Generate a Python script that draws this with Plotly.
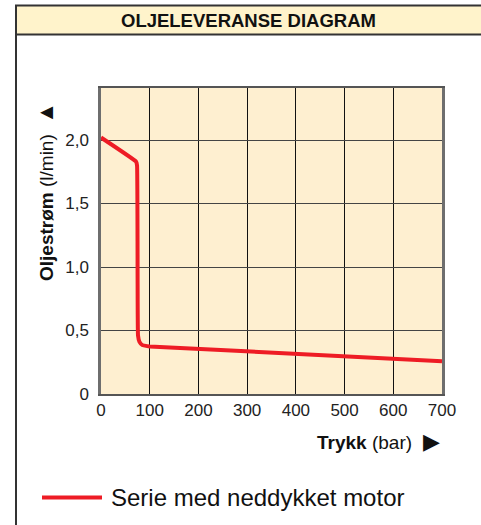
import plotly.graph_objects as go

# Data
trykk = [0, 72, 74, 75, 76, 79, 85, 95, 100, 700]
oljestrom = [2.02, 1.83, 1.80, 1.2, 0.46, 0.41, 0.385, 0.377, 0.375, 0.258]
series_name = "Serie med neddykket motor"

x_ticks = [0, 100, 200, 300, 400, 500, 600, 700]
x_ticktext = ["0", "100", "200", "300", "400", "500", "600", "700"]
y_ticks = [0, 0.5, 1.0, 1.5, 2.0]
y_ticktext = ["0", "0,5", "1,0", "1,5", "2,0"]

title_text = "OLJELEVERANSE DIAGRAM"
x_title = "<b>Trykk</b> (bar)  <span style='font-size:22px'>\u25B6</span>"
y_title = "<b>Oljestrøm</b> (l/min)  <span style='font-size:22px'>\u25B2</span>"

W, H = 481, 525
L, R, T, B = 101, 39, 88, 131
pw, ph = W - L - R, H - T - B


def px_x(px):
    return (px - L) / pw


def px_y(py):
    return (H - B - py) / ph


FONT = "Liberation Sans, Arial, sans-serif"
RED = "#EE1C25"

fig = go.Figure()
fig.add_trace(go.Scatter(
    x=trykk, y=oljestrom, mode="lines", name=series_name,
    line=dict(color=RED, width=4, shape="spline", smoothing=0.3),
    showlegend=False, hoverinfo="x+y",
))

shapes = [
    # header band
    dict(type="rect", xref="paper", yref="paper",
         x0=px_x(16), x1=px_x(495), y0=px_y(34.5), y1=px_y(5.5),
         fillcolor="#FFF3CB", line=dict(color="#333333", width=2), layer="below"),
    # left border of outer box
    dict(type="line", xref="paper", yref="paper",
         x0=px_x(16), x1=px_x(16), y0=px_y(34), y1=px_y(530),
         line=dict(color="#333333", width=2)),
    # legend sample line
    dict(type="line", xref="paper", yref="paper",
         x0=px_x(42), x1=px_x(102), y0=px_y(497.5), y1=px_y(497.5),
         line=dict(color=RED, width=4)),
]

annotations = [
    dict(text="<b>" + title_text + "</b>", xref="paper", yref="paper",
         x=px_x(248), y=px_y(21), showarrow=False, xanchor="center", yanchor="middle",
         font=dict(family=FONT, size=18.5, color="#111111")),
    dict(text=y_title, xref="paper", yref="paper", textangle=-90,
         x=px_x(45), y=px_y(192), showarrow=False, xanchor="center", yanchor="middle",
         font=dict(family=FONT, size=19, color="#111111")),
    dict(text=x_title, xref="paper", yref="paper",
         x=px_x(442), y=px_y(442), showarrow=False, xanchor="right", yanchor="middle",
         font=dict(family=FONT, size=19, color="#111111")),
    dict(text=series_name, xref="paper", yref="paper",
         x=px_x(109), y=px_y(497), showarrow=False, xanchor="left", yanchor="middle",
         font=dict(family=FONT, size=24, color="#111111")),
]

fig.update_layout(
    width=W, height=H,
    margin=dict(l=L, r=R, t=T, b=B, pad=0),
    paper_bgcolor="white",
    plot_bgcolor="#FEEFD0",
    font=dict(family=FONT, size=17, color="#222222"),
    shapes=shapes,
    annotations=annotations,
    showlegend=False,
    xaxis=dict(
        range=[0, 700], tickvals=x_ticks, ticktext=x_ticktext,
        showgrid=True, gridcolor="#111111", gridwidth=1,
        showline=True, linecolor="#555555", linewidth=2, mirror=True,
        ticks="inside", ticklen=6, tickcolor="#111111",
        zeroline=False, fixedrange=True,
        tickfont=dict(family=FONT, size=17, color="#222222"),
    ),
    yaxis=dict(
        range=[0, 2.41], tickvals=y_ticks, ticktext=y_ticktext,
        showgrid=True, gridcolor="#444444", gridwidth=1.3,
        showline=True, linecolor="#6E6E6E", linewidth=2.5, mirror=True,
        ticks="", ticklabelstandoff=6,
        zeroline=False, fixedrange=True,
        tickfont=dict(family=FONT, size=17, color="#222222"),
    ),
)

fig.write_html(
    "out.html",
    config={"displayModeBar": False},
    post_script="document.body.style.margin='0';document.body.style.overflow='hidden';",
)
